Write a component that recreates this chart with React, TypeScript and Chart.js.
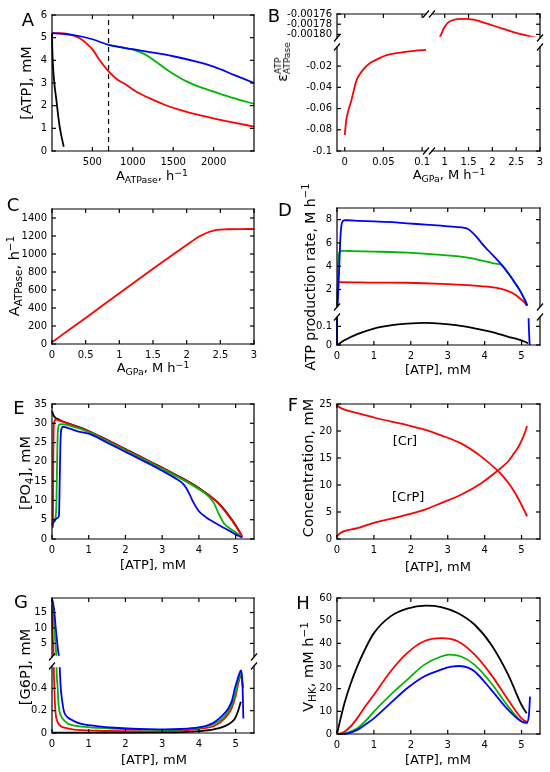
import React, { useEffect, useRef } from 'react';
import { Chart, registerables } from 'chart.js';

Chart.register(...registerables);

const FONT = "'DejaVu Sans', 'Noto Sans', sans-serif";
const RED = '#ff0000';
const GREEN = '#00b400';
const BLUE = '#0000ff';
const BLACK = '#000000';

// ---------------- Panel A ----------------
const A_BLUE_X = [0, 250, 500, 700, 1000, 1250, 1500, 1800, 2000, 2250, 2500];
const A_BLUE_Y = [5.2, 5.12, 4.93, 4.68, 4.49, 4.34, 4.18, 3.93, 3.72, 3.36, 3.0];
const A_GREEN_X = [700, 900, 1000, 1100, 1200, 1300, 1417, 1550, 1665, 1800, 2000, 2250, 2500];
const A_GREEN_Y = [4.68, 4.55, 4.47, 4.35, 4.16, 3.9, 3.6, 3.3, 3.07, 2.86, 2.62, 2.33, 2.08];
const A_RED_X = [0, 100, 178, 260, 343, 426, 508, 591, 703, 800, 922, 1050, 1211, 1400, 1582, 1800, 1995, 2250, 2500];
const A_RED_Y = [5.2, 5.2, 5.18, 5.1, 4.97, 4.75, 4.45, 4.0, 3.5, 3.18, 2.91, 2.6, 2.32, 2.03, 1.81, 1.6, 1.44, 1.25, 1.08];
const A_BLACK_X = [0, 3, 13, 30, 54, 75, 95, 120, 145];
const A_BLACK_Y = [5.2, 4.6, 3.72, 2.95, 2.25, 1.6, 1.07, 0.6, 0.19];
const A_DASH_X = [700, 700];
const A_DASH_Y = [0, 6];
const A_X_TICKS = [500, 1000, 1500, 2000];
const A_Y_TICKS = [0, 1, 2, 3, 4, 5, 6];

// ---------------- Panel B ----------------
const B_LEFT_X = [0, 0.002, 0.005, 0.0087, 0.012, 0.0152, 0.02, 0.026, 0.032, 0.039, 0.047, 0.055, 0.065, 0.076, 0.09, 0.105];
const B_LEFT_Y = [-0.085, -0.071, -0.061, -0.052, -0.042, -0.0334, -0.027, -0.0215, -0.0175, -0.0146, -0.0118, -0.0095, -0.008, -0.0068, -0.0056, -0.0047];
const B_RIGHT_X = [0.895, 0.94, 0.98, 1.08, 1.26, 1.43, 1.61, 1.89, 2.23, 2.58, 2.9];
const B_RIGHT_Y = [-0.001806, -0.001797, -0.001788, -0.001776, -0.00177, -0.0017694, -0.001771, -0.001779, -0.001789, -0.001799, -0.001806];
const B_XL_TICKS = [0, 0.05, 0.1];
const B_XL_LABELS = ['0', '0.05', '0.1'];
const B_XR_TICKS = [1, 1.5, 2, 2.5, 3];
const B_XR_LABELS = ['1', '1.5', '2', '2.5', '3'];
const B_YU_TICKS = [-0.00176, -0.00178, -0.0018];
const B_YU_LABELS = ['-0.00176', '-0.00178', '-0.00180'];
const B_YL_TICKS = [-0.02, -0.04, -0.06, -0.08, -0.1];
const B_YL_LABELS = ['-0.02', '-0.04', '-0.06', '-0.08', '-0.1'];

// ---------------- Panel C ----------------
const C_X = [0, 0.25, 0.5, 1, 1.5, 2, 2.2, 2.35, 2.45, 2.6, 2.8, 3];
const C_Y = [20, 155, 290, 565, 835, 1100, 1200, 1250, 1268, 1275, 1277, 1278];
const C_X_TICKS = [0, 0.5, 1, 1.5, 2, 2.5, 3];
const C_X_LABELS = ['0', '0.5', '1', '1.5', '2', '2.5', '3'];
const C_Y_TICKS = [0, 200, 400, 600, 800, 1000, 1200, 1400];

// ---------------- Panel D ----------------
const D_BLUE_X = [0, 0.03, 0.06, 0.09, 0.12, 0.155, 0.2, 0.3, 0.6, 1.0, 1.5, 1.9, 2.4, 2.82, 3.2, 3.45, 3.55, 3.65, 3.8, 3.9, 4.1, 4.45, 4.65, 4.82, 4.95, 5.05, 5.12, 5.16, 5.19, 5.22];
const D_BLUE_Y = [0, 1.5, 3.8, 6.33, 7.5, 7.86, 7.95, 7.95, 7.9, 7.86, 7.78, 7.68, 7.58, 7.48, 7.38, 7.3, 7.2, 6.95, 6.45, 6.05, 5.35, 4.16, 3.35, 2.58, 1.95, 1.35, 0.9, 0.55, 0.15, 0];
const D_GREEN_X = [0, 0.02, 0.045, 0.08, 0.14, 0.3, 1, 1.9, 2.82, 3.55, 4.09, 4.3, 4.45, 4.65, 4.82, 4.95, 5.05, 5.12, 5.15];
const D_GREEN_Y = [0, 2.5, 4.9, 5.25, 5.32, 5.31, 5.26, 5.17, 4.97, 4.74, 4.37, 4.22, 4.12, 3.35, 2.58, 1.95, 1.35, 0.9, 0.6];
const D_RED_X = [0, 0.01, 0.03, 0.09, 1, 1.9, 2.82, 3.55, 4.18, 4.45, 4.64, 4.8, 4.91, 5.0, 5.09, 5.14];
const D_RED_Y = [0, 1.5, 2.6, 2.64, 2.6, 2.58, 2.49, 2.37, 2.2, 2.05, 1.86, 1.62, 1.36, 1.12, 0.84, 0.56];
const D_BLACK_X = [0, 0.2, 0.55, 1, 1.45, 1.9, 2.4, 2.8, 3.27, 3.7, 4.18, 4.64, 4.95, 5.18];
const D_BLACK_Y = [0, 0.025, 0.058, 0.088, 0.105, 0.114, 0.118, 0.115, 0.105, 0.09, 0.07, 0.044, 0.028, 0.01];
const D_X_TICKS = [0, 1, 2, 3, 4, 5];
const D_YU_TICKS = [2, 4, 6, 8];
const D_YL_TICKS = [0, 0.1];
const D_YL_LABELS = ['0', '0.1'];

// ---------------- Panel E ----------------
const E_BLACK_X = [0, 0.05, 0.2, 0.5, 1, 1.5, 2, 2.5, 3, 3.5, 4, 4.5, 4.8, 5, 5.1, 5.18];
const E_BLACK_Y = [33.2, 31.9, 30.9, 29.8, 28.0, 25.7, 23.3, 20.9, 18.5, 16.0, 13.2, 9.6, 6.3, 3.6, 2.0, 0.5];
const E_RED_X = [0.005, 0.025, 0.03, 0.035, 0.045, 0.07, 0.1, 0.2, 0.5, 1, 1.5, 2, 2.5, 3, 3.5, 4, 4.5, 4.8, 5, 5.1, 5.18];
const E_RED_Y = [3.0, 3.2, 10, 20, 28.5, 30.6, 31.0, 30.7, 29.7, 27.9, 25.6, 23.2, 20.8, 18.4, 15.9, 13.1, 9.5, 6.1, 3.4, 1.9, 0.5];
const E_GREEN_X = [0.01, 0.08, 0.12, 0.135, 0.155, 0.19, 0.25, 0.5, 1, 1.5, 2, 2.5, 3, 3.5, 4, 4.27, 4.41, 4.55, 4.68, 4.86, 5.05, 5.16];
const E_GREEN_Y = [4.0, 5.0, 9, 18, 27, 29.6, 29.8, 29.3, 27.7, 25.4, 23.0, 20.6, 18.2, 15.7, 12.9, 11.0, 9.3, 6.3, 4.1, 2.6, 1.4, 0.5];
const E_BLUE_X = [0, 0.05, 0.15, 0.19, 0.21, 0.23, 0.26, 0.3, 0.4, 0.7, 1, 1.5, 2, 2.5, 3, 3.4, 3.55, 3.65, 3.75, 3.85, 4, 4.2, 4.4, 4.7, 5, 5.18];
const E_BLUE_Y = [3.5, 4.5, 5.5, 6, 15, 25, 28.6, 29.1, 28.9, 27.9, 27.3, 25.0, 22.6, 20.2, 17.7, 15.5, 14.5, 13.3, 11.5, 9.5, 7.2, 5.6, 4.4, 2.8, 1.2, 0.4];
const E_X_TICKS = [0, 1, 2, 3, 4, 5];
const E_Y_TICKS = [0, 5, 10, 15, 20, 25, 30, 35];

// ---------------- Panel F ----------------
const F_X = [0, 0.09, 0.55, 1, 1.5, 1.9, 2.4, 2.82, 3.36, 3.9, 4.36, 4.5, 4.64, 4.8, 4.91, 5.0, 5.08, 5.15];
const F_CR_Y = [24.8, 24.3, 23.3, 22.5, 21.7, 21.1, 20.2, 19.2, 17.7, 15.3, 12.6, 11.6, 10.4, 8.8, 7.5, 6.3, 5.2, 4.2];
const F_CRP_Y = [0.5, 1.1, 2.0, 3.0, 3.8, 4.5, 5.5, 6.65, 8.2, 10.3, 12.7, 13.5, 14.4, 15.9, 17.0, 18.2, 19.5, 20.9];
const F_NOTE_TEXT = ['[Cr]', '[CrP]'];
const F_NOTE_X = [1.84, 1.93];
const F_NOTE_Y = [18.0, 7.6];
const F_X_TICKS = [0, 1, 2, 3, 4, 5];
const F_Y_TICKS = [0, 5, 10, 15, 20, 25];

// ---------------- Panel G ----------------
const G_BLUE_X = [0, 0.03, 0.054, 0.08, 0.1, 0.125, 0.145, 0.17, 0.19, 0.21, 0.24, 0.28, 0.32, 0.37, 0.45, 0.55, 0.64, 0.8, 1.0, 1.27, 1.7, 2.18, 2.6, 3.08, 3.5, 3.99, 4.2, 4.44, 4.65, 4.8, 4.9, 4.98, 5.05, 5.1, 5.14, 5.17, 5.19, 5.21];
const G_BLUE_Y = [19.5, 18, 16.3, 13, 10.2, 7.3, 4.8, 2.3, 0.9, 0.6, 0.4, 0.28, 0.2, 0.16, 0.135, 0.115, 0.1, 0.082, 0.07, 0.059, 0.047, 0.038, 0.034, 0.032, 0.036, 0.05, 0.065, 0.1, 0.16, 0.22, 0.29, 0.4, 0.48, 0.53, 0.56, 0.52, 0.4, 0.13];
const G_GREEN_X = [0, 0.03, 0.054, 0.075, 0.1, 0.115, 0.125, 0.145, 0.17, 0.19, 0.25, 0.37, 0.5, 0.82, 1.27, 2, 3.08, 3.5, 3.99, 4.44, 4.7, 4.89, 5.0, 5.07, 5.12, 5.15, 5.19];
const G_GREEN_Y = [19.2, 15.5, 11.1, 7.5, 4.5, 1.5, 0.6, 0.45, 0.3, 0.22, 0.15, 0.1, 0.075, 0.057, 0.045, 0.034, 0.027, 0.03, 0.045, 0.085, 0.15, 0.25, 0.36, 0.47, 0.52, 0.53, 0.42];
const G_RED_X = [0, 0.01, 0.025, 0.035, 0.045, 0.05, 0.06, 0.075, 0.1, 0.15, 0.25, 0.37, 0.6, 1.27, 2, 3.08, 3.5, 3.99, 4.44, 4.7, 4.89, 5.0, 5.07, 5.13, 5.16, 5.2];
const G_RED_Y = [17.5, 10.5, 6, 4.5, 1.5, 0.6, 0.45, 0.3, 0.17, 0.1, 0.058, 0.045, 0.03, 0.02, 0.016, 0.015, 0.02, 0.036, 0.067, 0.13, 0.22, 0.33, 0.44, 0.5, 0.5, 0.4];
const G_BLACK_X = [0, 1, 2, 3, 3.5, 3.99, 4.4, 4.71, 4.9, 4.98, 5.07, 5.14];
const G_BLACK_Y = [0.004, 0.003, 0.003, 0.005, 0.008, 0.016, 0.032, 0.062, 0.1, 0.13, 0.2, 0.28];
const G_X_TICKS = [0, 1, 2, 3, 4, 5];
const G_YU_TICKS = [5, 10, 15];
const G_YL_TICKS = [0, 0.2, 0.4];
const G_YL_LABELS = ['0', '0.2', '0.4'];

// ---------------- Panel H ----------------
const H_BLACK_X = [0, 0.1, 0.2, 0.36, 0.55, 0.73, 1, 1.45, 1.9, 2.41, 2.82, 3.27, 3.73, 4.18, 4.64, 5, 5.14];
const H_BLACK_Y = [0, 7, 13.5, 21.7, 29.8, 36.4, 44.5, 51.9, 55.3, 56.6, 56, 53.4, 48.2, 39.4, 26.1, 12.8, 9.1];
const H_RED_X = [0, 0.15, 0.36, 0.55, 0.73, 1, 1.45, 1.9, 2.36, 2.82, 3.27, 3.73, 4.18, 4.64, 5, 5.17];
const H_RED_Y = [0, 0.5, 3.2, 7, 11.4, 17.3, 27.6, 35.7, 40.9, 42.3, 40.9, 35, 26.1, 15, 6.9, 5.0];
const H_GREEN_X = [0, 0.25, 0.55, 0.8, 1, 1.45, 1.9, 2.36, 2.82, 3.05, 3.36, 3.73, 4.18, 4.64, 5, 5.17];
const H_GREEN_Y = [0, 0.4, 2.5, 6.2, 9.9, 17.3, 23.9, 30.5, 34.2, 35, 34.2, 30.5, 22.4, 12.1, 5.5, 4.7];
const H_BLUE_X = [0, 0.3, 0.55, 0.8, 1, 1.45, 1.9, 2.36, 2.82, 3.1, 3.32, 3.55, 3.73, 4.18, 4.64, 5, 5.14, 5.2, 5.23];
const H_BLUE_Y = [0, 0.3, 1.8, 4.5, 6.9, 13.6, 20.2, 25.4, 28.4, 29.7, 30.0, 29.3, 27.6, 19.5, 10.6, 5.5, 5.0, 8.4, 16.5];
const H_X_TICKS = [0, 1, 2, 3, 4, 5];
const H_Y_TICKS = [0, 10, 20, 30, 40, 50, 60];

// ---------------- structure ----------------
type Seg = { min: number; max: number; p0: number; p1: number; ticks: number[]; labels?: string[] };
type Series = { x: number[]; y: number[]; color: string; dash?: number[]; smooth?: boolean; width?: number; cells?: string[] };
type Note = { x: number; y: number; text: string };
type PanelSpec = { xs: Seg[]; ys: Seg[]; series: Series[]; notes?: Note[] };

const str = (a: number[]) => a.map((v) => String(v));

const PANELS: PanelSpec[] = [
  {
    xs: [{ min: 0, max: 2500, p0: 52.3, p1: 254, ticks: A_X_TICKS, labels: str(A_X_TICKS) }],
    ys: [{ min: 0, max: 6, p0: 15, p1: 151, ticks: A_Y_TICKS, labels: str(A_Y_TICKS) }],
    series: [
      { x: A_BLUE_X, y: A_BLUE_Y, color: BLUE },
      { x: A_GREEN_X, y: A_GREEN_Y, color: GREEN },
      { x: A_RED_X, y: A_RED_Y, color: RED },
      { x: A_BLACK_X, y: A_BLACK_Y, color: BLACK },
      { x: A_DASH_X, y: A_DASH_Y, color: BLACK, dash: [5, 4], smooth: false, width: 1.2 },
    ],
  },
  {
    xs: [
      { min: -0.01, max: 0.105, p0: 337.3, p1: 425.5, ticks: B_XL_TICKS, labels: B_XL_LABELS },
      { min: 0.733, max: 3, p0: 431.5, p1: 540, ticks: B_XR_TICKS, labels: B_XR_LABELS },
    ],
    ys: [
      { min: -0.001807, max: -0.00176, p0: 14.3, p1: 37.5, ticks: B_YU_TICKS, labels: B_YU_LABELS },
      { min: -0.1, max: -0.002, p0: 46.5, p1: 151, ticks: B_YL_TICKS, labels: B_YL_LABELS },
    ],
    series: [
      { x: B_LEFT_X, y: B_LEFT_Y, color: RED, cells: ['1-0'] },
      { x: B_RIGHT_X, y: B_RIGHT_Y, color: RED, cells: ['0-1'] },
    ],
  },
  {
    xs: [{ min: 0, max: 3, p0: 52.3, p1: 254, ticks: C_X_TICKS, labels: C_X_LABELS }],
    ys: [{ min: 0, max: 1500, p0: 208.5, p1: 344, ticks: C_Y_TICKS, labels: str(C_Y_TICKS) }],
    series: [{ x: C_X, y: C_Y, color: RED }],
  },
  {
    xs: [{ min: 0, max: 5.5, p0: 337.3, p1: 540, ticks: D_X_TICKS, labels: str(D_X_TICKS) }],
    ys: [
      { min: 0.5, max: 9, p0: 208.3, p1: 307.3, ticks: D_YU_TICKS, labels: str(D_YU_TICKS) },
      { min: 0, max: 0.15, p0: 316.7, p1: 345, ticks: D_YL_TICKS, labels: D_YL_LABELS },
    ],
    series: [
      { x: D_BLUE_X, y: D_BLUE_Y, color: BLUE },
      { x: D_GREEN_X, y: D_GREEN_Y, color: GREEN },
      { x: D_RED_X, y: D_RED_Y, color: RED },
      { x: D_BLACK_X, y: D_BLACK_Y, color: BLACK },
    ],
  },
  {
    xs: [{ min: 0, max: 5.5, p0: 52.3, p1: 254, ticks: E_X_TICKS, labels: str(E_X_TICKS) }],
    ys: [{ min: 0, max: 35, p0: 404, p1: 539.3, ticks: E_Y_TICKS, labels: str(E_Y_TICKS) }],
    series: [
      { x: E_BLUE_X, y: E_BLUE_Y, color: BLUE },
      { x: E_GREEN_X, y: E_GREEN_Y, color: GREEN },
      { x: E_RED_X, y: E_RED_Y, color: RED },
      { x: E_BLACK_X, y: E_BLACK_Y, color: BLACK },
    ],
  },
  {
    xs: [{ min: 0, max: 5.5, p0: 337.3, p1: 540, ticks: F_X_TICKS, labels: str(F_X_TICKS) }],
    ys: [{ min: 0, max: 25, p0: 404, p1: 539.3, ticks: F_Y_TICKS, labels: str(F_Y_TICKS) }],
    series: [
      { x: F_X, y: F_CR_Y, color: RED },
      { x: F_X, y: F_CRP_Y, color: RED },
    ],
    notes: F_NOTE_TEXT.map((t, i) => ({ text: t, x: F_NOTE_X[i], y: F_NOTE_Y[i] })),
  },
  {
    xs: [{ min: 0, max: 5.5, p0: 52.3, p1: 254, ticks: G_X_TICKS, labels: str(G_X_TICKS) }],
    ys: [
      { min: 0.6, max: 19.7, p0: 597.7, p1: 657, ticks: G_YU_TICKS, labels: str(G_YU_TICKS) },
      { min: 0, max: 0.6, p0: 666, p1: 733.3, ticks: G_YL_TICKS, labels: G_YL_LABELS },
    ],
    series: [
      { x: G_BLUE_X, y: G_BLUE_Y, color: BLUE },
      { x: G_GREEN_X, y: G_GREEN_Y, color: GREEN },
      { x: G_RED_X, y: G_RED_Y, color: RED },
      { x: G_BLACK_X, y: G_BLACK_Y, color: BLACK },
    ],
  },
  {
    xs: [{ min: 0, max: 5.5, p0: 337.3, p1: 540, ticks: H_X_TICKS, labels: str(H_X_TICKS) }],
    ys: [{ min: 0, max: 60, p0: 598.3, p1: 734, ticks: H_Y_TICKS, labels: str(H_Y_TICKS) }],
    series: [
      { x: H_BLUE_X, y: H_BLUE_Y, color: BLUE },
      { x: H_GREEN_X, y: H_GREEN_Y, color: GREEN },
      { x: H_RED_X, y: H_RED_Y, color: RED },
      { x: H_BLACK_X, y: H_BLACK_Y, color: BLACK },
    ],
  },
];

type FrameCfg = { left: boolean; right: boolean; top: boolean; bottom: boolean; marks: string[] };

function makeFrame(cfg: FrameCfg, notes?: Note[]) {
  return {
    id: 'gnuframe',
    afterDatasetsDraw(chart: any) {
      const { ctx, chartArea: a, scales } = chart;
      const sx = scales.x;
      const sy = scales.y;
      ctx.save();
      ctx.strokeStyle = '#000';
      ctx.lineWidth = 1.2;
      ctx.lineCap = 'butt';
      const seg = (x1: number, y1: number, x2: number, y2: number) => {
        ctx.beginPath();
        ctx.moveTo(x1, y1);
        ctx.lineTo(x2, y2);
        ctx.stroke();
      };
      const h = 0.6;
      if (cfg.top) seg(a.left - h, a.top, a.right + h, a.top);
      if (cfg.bottom) seg(a.left - h, a.bottom, a.right + h, a.bottom);
      if (cfg.left) seg(a.left, a.top - h, a.left, a.bottom + h);
      if (cfg.right) seg(a.right, a.top - h, a.right, a.bottom + h);
      const TL = 4;
      sx.ticks.forEach((t: any) => {
        const p = sx.getPixelForValue(t.value);
        if (cfg.bottom) seg(p, a.bottom, p, a.bottom - TL);
        if (cfg.top) seg(p, a.top, p, a.top + TL);
      });
      sy.ticks.forEach((t: any) => {
        const p = sy.getPixelForValue(t.value);
        if (cfg.left) seg(a.left, p, a.left + TL, p);
        if (cfg.right) seg(a.right, p, a.right - TL, p);
      });
      cfg.marks.forEach((m) => {
        const cx = m[0] === 'l' ? a.left : a.right;
        const cy = m[1] === 't' ? a.top : a.bottom;
        seg(cx - 3, cy + 3.5, cx + 3, cy - 3.5);
      });
      if (notes) {
        ctx.fillStyle = '#000';
        ctx.font = `13px ${FONT}`;
        ctx.textAlign = 'center';
        ctx.textBaseline = 'middle';
        notes.forEach((n) => ctx.fillText(n.text, sx.getPixelForValue(n.x), sy.getPixelForValue(n.y)));
      }
      ctx.restore();
    },
  };
}

function axis(seg: Seg, show: boolean, isX: boolean, size: number) {
  return {
    type: 'linear',
    min: seg.min,
    max: seg.max,
    grid: { display: false, drawTicks: false },
    border: { display: false },
    ticks: {
      display: show && !!seg.labels,
      autoSkip: false,
      maxRotation: 0,
      minRotation: 0,
      padding: 5,
      color: '#000',
      font: { family: FONT, size: 10 },
      callback: (v: number) => {
        const i = seg.ticks.findIndex((t) => Math.abs(t - v) < 1e-10);
        return i >= 0 && seg.labels ? seg.labels[i] : '';
      },
    },
    afterBuildTicks: (s: any) => {
      const eps = (seg.max - seg.min) * 1e-6;
      s.ticks = seg.ticks.filter((t) => t >= seg.min - eps && t <= seg.max + eps).map((v) => ({ value: v }));
    },
    afterFit: (s: any) => {
      if (isX) s.height = size;
      else s.width = size;
      s.paddingLeft = 0;
      s.paddingRight = 0;
      s.paddingTop = 0;
      s.paddingBottom = 0;
    },
  };
}

const PL = 66;
const PT = 10;
const PR = 10;
const PB = 26;

function Cell({ spec, r, c }: { spec: PanelSpec; r: number; c: number }) {
  const ref = useRef<HTMLCanvasElement | null>(null);
  const xs = spec.xs[c];
  const ys = spec.ys[r];
  const x0 = Math.round(xs.p0);
  const x1 = Math.round(xs.p1);
  const y0 = Math.round(ys.p0);
  const y1 = Math.round(ys.p1);
  const W = x1 - x0 + PL + PR;
  const H = y1 - y0 + PT + PB;
  useEffect(() => {
    const nR = spec.ys.length;
    const nC = spec.xs.length;
    const marks: string[] = [];
    if (r > 0) { if (c === 0) marks.push('lt'); if (c === nC - 1) marks.push('rt'); }
    if (r < nR - 1) { if (c === 0) marks.push('lb'); if (c === nC - 1) marks.push('rb'); }
    if (c > 0) { if (r === 0) marks.push('lt'); if (r === nR - 1) marks.push('lb'); }
    if (c < nC - 1) { if (r === 0) marks.push('rt'); if (r === nR - 1) marks.push('rb'); }
    const frame: FrameCfg = { left: c === 0, right: c === nC - 1, top: r === 0, bottom: r === nR - 1, marks };
    const key = `${r}-${c}`;
    const clip = { left: 1, right: 1, top: r > 0 ? -1.2 : 1, bottom: r < nR - 1 ? -1.2 : 1 };
    const chart = new Chart(ref.current as HTMLCanvasElement, {
      type: 'line',
      data: {
        datasets: spec.series
          .filter((s) => !s.cells || s.cells.includes(key))
          .map((s) => ({
            data: s.x.map((x, i) => ({ x, y: s.y[i] })),
            borderColor: s.color,
            borderWidth: s.width ?? 1.8,
            borderDash: s.dash ?? [],
            borderJoinStyle: 'round',
            pointRadius: 0,
            fill: false,
            cubicInterpolationMode: s.smooth === false ? 'default' : 'monotone',
            tension: s.smooth === false ? 0 : 0.4,
            clip,
          })),
      },
      options: {
        animation: false,
        responsive: false,
        maintainAspectRatio: false,
        events: [],
        layout: { padding: { left: 0, top: PT, right: PR, bottom: 0 } },
        plugins: { legend: { display: false }, tooltip: { enabled: false }, title: { display: false } },
        scales: {
          x: axis(xs, r === nR - 1, true, PB),
          y: axis(ys, c === 0, false, PL),
        },
      },
      plugins: [makeFrame(frame, spec.notes)],
    } as any);
    return () => chart.destroy();
  }, [spec, r, c]);
  return (
    <canvas
      ref={ref}
      width={W}
      height={H}
      style={{ position: 'absolute', left: x0 - PL, top: y0 - PT, width: W, height: H }}
    />
  );
}

function Txt({ x, y, size = 13, rot = false, children }: { x: number; y: number; size?: number; rot?: boolean; children: React.ReactNode }) {
  return (
    <div
      style={{
        position: 'absolute',
        left: x,
        top: y,
        transform: `translate(-50%, -50%)${rot ? ' rotate(-90deg)' : ''}`,
        fontSize: size,
        lineHeight: 1,
        whiteSpace: 'nowrap',
        fontFamily: FONT,
        color: '#000',
      }}
    >
      {children}
    </div>
  );
}

const Sub = ({ children }: { children: React.ReactNode }) => (
  <span style={{ fontSize: '0.72em', verticalAlign: '-0.3em' }}>{children}</span>
);
const Sup = ({ children }: { children: React.ReactNode }) => (
  <span style={{ fontSize: '0.72em', verticalAlign: '0.5em' }}>{children}</span>
);

const LETTERS = ['A', 'B', 'C', 'D', 'E', 'F', 'G', 'H'];
const LETTER_X = [28, 274, 13, 285, 19, 293, 21, 303];
const LETTER_Y = [20, 16, 205, 210, 408, 405, 602, 603];

const YT = 14.5;
const XT = 13;

export default function App() {
  return (
    <div style={{ position: 'absolute', left: 0, top: 0, width: 550, height: 772, background: '#fff', overflow: 'hidden', fontFamily: FONT }}>
      {PANELS.map((p, i) =>
        p.ys.map((_, r) => p.xs.map((__, c) => <Cell key={`${i}-${r}-${c}`} spec={p} r={r} c={c} />))
      )}
      {LETTERS.map((l, i) => (
        <Txt key={l} x={LETTER_X[i]} y={LETTER_Y[i]} size={18}>{l}</Txt>
      ))}
      {/* A */}
      <Txt x={26} y={83} size={YT} rot>[ATP], mM</Txt>
      <Txt x={152} y={176} size={XT}>A<Sub>ATPase</Sub>, h<Sup>−1</Sup></Txt>
      {/* B */}
      <Txt x={283} y={62} size={YT} rot>
        ε
        <span style={{ display: 'inline-flex', flexDirection: 'column', fontSize: '0.62em', lineHeight: 1, verticalAlign: 'middle' }}>
          <span>ATP</span>
          <span>ATPase</span>
        </span>
      </Txt>
      <Txt x={449} y={175} size={XT}>A<Sub>GPa</Sub>, M h<Sup>−1</Sup></Txt>
      {/* C */}
      <Txt x={14} y={276} size={YT} rot>A<Sub>ATPase</Sub>, h<Sup>−1</Sup></Txt>
      <Txt x={153} y={368} size={XT}>A<Sub>GPa</Sub>, M h<Sup>−1</Sup></Txt>
      {/* D */}
      <Txt x={309} y={277} size={14} rot>ATP production rate, M h<Sup>−1</Sup></Txt>
      <Txt x={438} y={369} size={XT}>[ATP], mM</Txt>
      {/* E */}
      <Txt x={26} y={473} size={YT} rot>[PO<Sub>4</Sub>], mM</Txt>
      <Txt x={153} y={564} size={XT}>[ATP], mM</Txt>
      {/* F */}
      <Txt x={308} y={468} size={YT} rot>Concentration, mM</Txt>
      <Txt x={438} y={566} size={XT}>[ATP], mM</Txt>
      {/* G */}
      <Txt x={25} y={667} size={YT} rot>[G6P], mM</Txt>
      <Txt x={154} y={759} size={XT}>[ATP], mM</Txt>
      {/* H */}
      <Txt x={308} y={667} size={YT} rot>V<Sub>HK</Sub>, mM h<Sup>−1</Sup></Txt>
      <Txt x={438} y={759} size={XT}>[ATP], mM</Txt>
    </div>
  );
}
